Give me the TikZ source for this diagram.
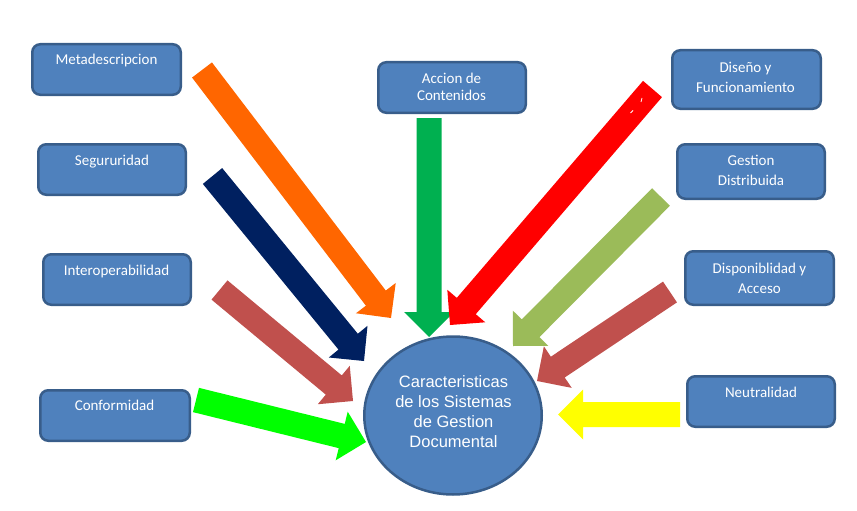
\documentclass[tikz,border=0pt]{standalone}
\usepackage{fontspec}
\setmainfont{Carlito}
\newfontfamily\arialf{Liberation Sans}
\usetikzlibrary{calc,shapes.geometric}
\definecolor{boxfill}{HTML}{4F81BD}
\definecolor{boxline}{HTML}{385D8A}
\definecolor{aorange}{HTML}{FF6600}
\definecolor{anavy}{HTML}{002060}
\definecolor{agreen}{HTML}{00B050}
\definecolor{ared}{HTML}{FF0000}
\definecolor{aolive}{HTML}{9BBB59}
\definecolor{abrick}{HTML}{C0504D}
\definecolor{alime}{HTML}{00FF00}
\definecolor{ayellow}{HTML}{FFFF00}
% block arrow: colour, tail coordinate, tip coordinate
\newcommand\blockarr[3]{%
  \coordinate (hb) at ($(#3)!25pt!(#2)$);
  \fill[#1] ($(#2)!12.5pt!90:(#3)$) -- ($(hb)!12.5pt!90:(#3)$) -- ($(hb)!25pt!90:(#3)$)
    -- (#3) -- ($(hb)!25pt!-90:(#3)$) -- ($(hb)!12.5pt!-90:(#3)$) -- ($(#2)!12.5pt!-90:(#3)$) -- cycle;
}
\begin{document}
\begin{tikzpicture}[x=1pt,y=-1pt,
  box/.style={draw=boxline, fill=boxfill, line width=2.5pt, rounded corners=8pt, inner sep=0pt},
  lbl/.style={text=white, font=\fontsize{15}{18}\selectfont, anchor=base, inner sep=0pt},
  clbl/.style={text=white, font=\arialf\fontsize{16.5}{20}\selectfont, anchor=base, inner sep=0pt}]
\useasboundingbox (0,0) rectangle (857,511);

% boxes
\node[box, minimum width=148.5pt, minimum height=50.5pt] (meta) at (106.5,69.5) {};
\node[box, minimum width=147.5pt, minimum height=50.5pt] (segu) at (112,169.5) {};
\node[box, minimum width=147.5pt, minimum height=50.5pt] (inter) at (117,279.5) {};
\node[box, minimum width=149.5pt, minimum height=50.5pt] (conf) at (115,415.5) {};
\node[box, minimum width=147.5pt, minimum height=50.5pt] (accion) at (452,87.5) {};
\node[box, minimum width=148.5pt, minimum height=58.5pt] (diseno) at (746.5,79.5) {};
\node[box, minimum width=147.5pt, minimum height=54.5pt] (gestion) at (751,171.5) {};
\node[box, minimum width=148.5pt, minimum height=53.5pt] (dispon) at (759.5,278) {};
\node[box, minimum width=147.5pt, minimum height=50.5pt] (neutral) at (761,401.5) {};

% box texts
\node[lbl] (metaT) at (106.5,64.3) {Metadescripcion};
\node[lbl] (seguT) at (112,165.7) {Segururidad};
\node[lbl] (interT) at (116.5,275.7) {Interoperabilidad};
\node[lbl] (confT) at (114.5,410.7) {Conformidad};
\node[lbl] (accionT1) at (451.5,83.3) {Accion de};
\node[lbl] (accionT2) at (451.5,100.7) {Contenidos};
\node[lbl] (disenoT1) at (745.5,72.3) {Diseño y};
\node[lbl] (disenoT2) at (745.5,92.3) {Funcionamiento};
\node[lbl] (gestionT1) at (751,165.7) {Gestion};
\node[lbl] (gestionT2) at (751,185.7) {Distribuida};
\node[lbl] (disponT1) at (759.5,273.3) {Disponiblidad y};
\node[lbl] (disponT2) at (759.5,293.3) {Acceso};
\node[lbl] (neutralT) at (761,397.5) {Neutralidad};

% central ellipse
\node[ellipse, draw=boxline, fill=boxfill, line width=2.5pt, minimum width=177.5pt, minimum height=158pt, inner sep=0pt] (core) at (453,415.5) {};
\node[clbl] (coreT1) at (453.5,387.7) {Caracteristicas};
\node[clbl] (coreT2) at (453.5,407.5) {de los Sistemas};
\node[clbl] (coreT3) at (453.5,427.3) {de Gestion};
\node[clbl] (coreT4) at (453.5,447.3) {Documental};

% arrow end points
\coordinate (oT) at (202,70);     \coordinate (oH) at (391,318);
\coordinate (nT) at (212.5,176);  \coordinate (nH) at (364,361);
\coordinate (bT) at (219.5,290);  \coordinate (bH) at (353,401);
\coordinate (lT) at (196,400);    \coordinate (lH) at (366,442);
\coordinate (gT) at (429,118);    \coordinate (gH) at (429,337);
\coordinate (rT) at (652.5,89);   \coordinate (rH) at (450,325);
\coordinate (vT) at (661,197);    \coordinate (vH) at (513,346);
\coordinate (cT) at (670,292);    \coordinate (cH) at (537,381);
\coordinate (yT) at (680,414.5);  \coordinate (yH) at (558,414.5);

\blockarr{aorange}{oT}{oH}
\blockarr{anavy}{nT}{nH}
\blockarr{abrick}{bT}{bH}
\blockarr{alime}{lT}{lH}
\blockarr{agreen}{gT}{gH}
\blockarr{ared}{rT}{rH}
\blockarr{aolive}{vT}{vH}
\blockarr{abrick}{cT}{cH}
\blockarr{ayellow}{yT}{yH}

% small white marks on the red arrow
\coordinate (m1a) at (642,98); \coordinate (m1b) at (641,102);
\coordinate (m2a) at (630.5,113); \coordinate (m2b) at (633,110.5);
\draw[white, line width=0.8pt] (m1a) -- (m1b);
\draw[white, line width=0.8pt] (m2a) -- (m2b);
\end{tikzpicture}
\end{document}
